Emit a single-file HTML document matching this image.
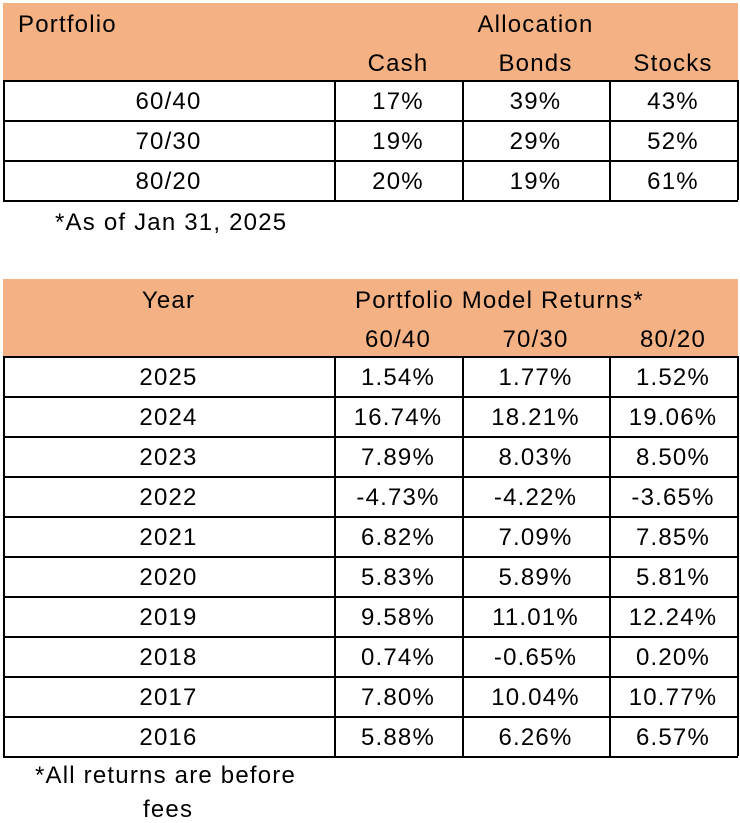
<!DOCTYPE html>
<html><head><meta charset="utf-8"><style>
body{margin:0;width:740px;height:822px;background:#fff;position:relative;font-family:"Liberation Sans",sans-serif;font-size:24px;letter-spacing:1.2px;color:#000;overflow:hidden}
.b{position:absolute;background:#F4B183}
.t{position:absolute;white-space:nowrap;line-height:26px}
.c{position:absolute;text-align:center;line-height:40px;height:40px}
.h{position:absolute;background:#000}
</style></head><body>
<div class="b" style="left:3px;top:3px;width:735px;height:77px"></div>
<div class="t" style="left:18px;top:12px">Portfolio</div>
<div class="t" style="top:12px;text-align:center;left:462px;width:147px">Allocation</div>
<div class="t" style="left:334px;width:128px;top:51px;text-align:center">Cash</div>
<div class="t" style="left:462px;width:147px;top:51px;text-align:center">Bonds</div>
<div class="t" style="left:609px;width:128px;top:51px;text-align:center">Stocks</div>

<div class="b" style="left:3px;top:279px;width:735px;height:77px"></div>
<div class="t" style="left:3px;width:331px;top:288px;text-align:center">Year</div>
<div class="t" style="width:403px;top:288px;text-align:center;left:298px">Portfolio Model Returns*</div>
<div class="t" style="left:334px;width:128px;top:327px;text-align:center">60/40</div>
<div class="t" style="left:462px;width:147px;top:327px;text-align:center">70/30</div>
<div class="t" style="left:609px;width:128px;top:327px;text-align:center">80/20</div>

<div id="g"></div>
<div class="t" style="left:55px;top:210px">*As of Jan 31, 2025</div>
<div class="t" style="left:35px;top:763px">*All returns are before</div>
<div class="t" style="left:143px;top:797px">fees</div>
<script>
var g=document.getElementById('g'),h='';
function table(top,rows){
 var xs=[3,334,462,609,737];
 for(var i=0;i<=rows.length;i++)h+='<div class="h" style="left:3px;top:'+(top+i*40)+'px;width:735px;height:1.5px"></div>';
 for(var j=0;j<xs.length;j++)h+='<div class="h" style="left:'+xs[j]+'px;top:'+top+'px;width:1.5px;height:'+(rows.length*40)+'px"></div>';
 rows.forEach(function(r,i){for(var j=0;j<4;j++)h+='<div class="c" style="left:'+xs[j]+'px;width:'+(xs[j+1]-xs[j])+'px;top:'+(top+i*40+2)+'px">'+r[j]+'</div>';});
}
table(80,[["60/40","17%","39%","43%"],["70/30","19%","29%","52%"],["80/20","20%","19%","61%"]]);
table(356,[["2025","1.54%","1.77%","1.52%"],["2024","16.74%","18.21%","19.06%"],["2023","7.89%","8.03%","8.50%"],["2022","-4.73%","-4.22%","-3.65%"],["2021","6.82%","7.09%","7.85%"],["2020","5.83%","5.89%","5.81%"],["2019","9.58%","11.01%","12.24%"],["2018","0.74%","-0.65%","0.20%"],["2017","7.80%","10.04%","10.77%"],["2016","5.88%","6.26%","6.57%"]]);
g.innerHTML=h;
</script>
</body></html>
